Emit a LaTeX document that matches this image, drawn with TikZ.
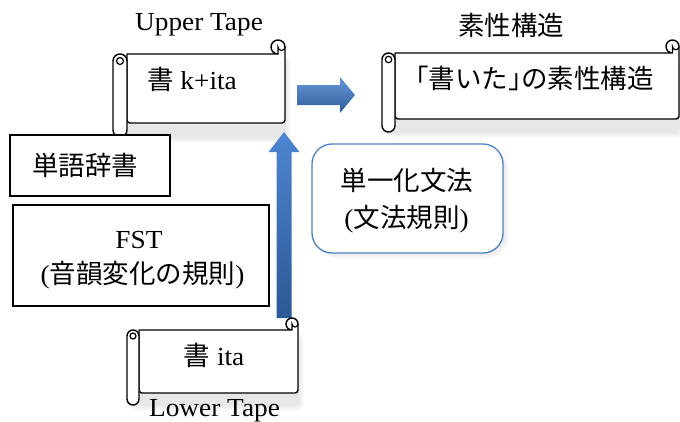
\documentclass[tikz,border=0pt]{standalone}
\usepackage{fontspec}
\setmainfont{Liberation Serif}[FakeStretch=1.05]
\newfontfamily\cjk{Noto Sans CJK JP}
\usetikzlibrary{calc}
\definecolor{arrowlight}{RGB}{78,134,210}
\definecolor{arrowdark}{RGB}{44,88,148}
\definecolor{boxblue}{RGB}{79,129,189}
\newcommand\cjs{\cjk\fontsize{26.5}{30}\selectfont}
\tikzset{
  scrollline/.style={draw=black,line width=1.4pt,fill=white,line join=round},
  plainbox/.style={draw=black,line width=1.2pt,fill=white},
  lbl/.style={anchor=base,inner sep=0pt,font=\fontsize{26}{30}\selectfont},
  cj/.style={anchor=base,inner sep=0pt,font=\cjs},
  shadowfill/.style={fill=black,opacity=0.025}
}
% L T R B d  (pixel coordinates, y downward)
\newcommand\drawscroll[5]{%
  \pgfmathsetmacro\sh{#5/2}%
  \pgfmathsetmacro\sq{#5/4}%
  \foreach \o in {1,2.5,4,5.5}{%
    \fill[shadowfill,rounded corners=4pt] ({#1+\o},{-(#2+#5+\o)}) rectangle ({#3+\o},{-(#4+\o)});}
  \path[scrollline] ({#1+#5},{-(#2+#5)}) -- ({#3-\sh},{-(#2+#5)})
     arc[start angle=270,end angle=0,radius=\sh pt]
     [rounded corners=3pt] -- (#3,{-(#4-#5)}) -- ({#1+#5},{-(#4-#5)}) [sharp corners] -- cycle;
  \draw[line width=1.2pt] ({#3-\sh},{-(#2+#5)}) -- ({#3-\sh},{-(#2+\sh)})
     arc[start angle=180,end angle=360,radius=\sq pt];
  \path[scrollline] (#1,{-(#2+#5+\sh)}) arc[start angle=180,end angle=0,radius=\sh pt]
     -- ({#1+#5},{-(#4-\sh)}) arc[start angle=0,end angle=-180,radius=\sh pt] -- cycle;
  \draw[line width=1.2pt] ({#1+\sh},{-(#2+#5+\sh)}) circle[radius=\sq pt];
}
\begin{document}
\begin{tikzpicture}[x=1pt,y=1pt]
\useasboundingbox (0,0) rectangle (680,-421);

% labels
\node[lbl] (upperlbl) at (199,-30) {Upper Tape};
\node[cj] (fslbl) at (511,-35) {素性構造};

% upper tape scroll
\drawscroll{113}{40}{285}{137}{14}
\node[lbl] (uppertxt) at (192,-89) {{\cjs 書} k+ita};

% feature structure scroll
\drawscroll{382}{40}{679}{132}{13}
\node[cj] (fstxt) at (528,-88) {「書いた」\kern-0.5em の素性構造};

% dictionary box
\node[plainbox,minimum width=160pt,minimum height=61pt,inner sep=0pt] (dict) at (90,-165.5) {};
\node[cj] (dicttxt) at (85,-175) {単語辞書};

% FST box
\node[plainbox,minimum width=256pt,minimum height=101pt,inner sep=0pt] (fst) at (141,-255.5) {};
\node[lbl] (fsttxt) at (139,-248) {FST};
\node[lbl] (fsttxt2) at (142.5,-283) {(\mbox{\cjs 音韻変化の規則})};

% arrows
\coordinate (upS) at (284,-318);
\coordinate (upE) at (284,-132);
\shade[top color=arrowlight,bottom color=arrowdark]
  ($(upS)+(-7.5,0)$) -- ($(upE)+(-7.5,-20)$) -- ($(upE)+(-15.5,-20)$) -- (upE)
  -- ($(upE)+(15.5,-20)$) -- ($(upE)+(7.5,-20)$) -- ($(upS)+(7.5,0)$) -- cycle;
\coordinate (rtS) at (297,-95);
\coordinate (rtE) at (355,-95);
\shade[top color=arrowlight!85!white,bottom color=arrowdark!90!arrowlight]
  ($(rtS)+(0,10)$) -- ($(rtE)+(-15,10)$) -- ($(rtE)+(-15,18)$) -- (rtE)
  -- ($(rtE)+(-15,-18)$) -- ($(rtE)+(-15,-10)$) -- ($(rtS)+(0,-10)$) -- cycle;

% unification grammar box
\foreach \o in {1,2.5,4,5.5}{\fill[shadowfill,rounded corners=20pt] ({312+\o},{-144-\o}) rectangle ({503+\o},{-253-\o});}
\node[draw=boxblue,line width=1.3pt,fill=white,rounded corners=20pt,minimum width=191pt,minimum height=109pt,inner sep=0pt] (ug) at (407.5,-198.5) {};
\node[cj] (ugtxt) at (407,-190) {単一化文法};
\node[lbl] (ugtxt2) at (406.5,-227) {(\mbox{\cjs 文法規則})};

% lower tape scroll
\drawscroll{127}{318}{298}{405}{12}
\node[lbl] (lowertxt) at (214,-365) {{\cjs 書} ita};
\node[lbl] (lowerlbl) at (214.5,-416) {Lower Tape};
\end{tikzpicture}
\end{document}
